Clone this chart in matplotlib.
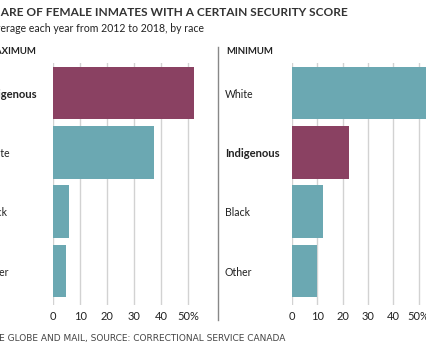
import matplotlib
matplotlib.use("Agg")
import matplotlib.pyplot as plt

W, H = 426, 351
plt.rcParams['font.family'] = ['Lato', 'DejaVu Sans']

# ---- data ----
max_categories = ["Indigenous", "White", "Black", "Other"]
max_values = [52.0, 37.2, 5.8, 4.7]
min_categories = ["White", "Indigenous", "Black", "Other"]
min_values = [57.0, 22.4, 12.2, 9.9]
tick_values = [0, 10, 20, 30, 40, 50]
tick_labels = ["0", "10", "20", "30", "40", "50%"]
highlight = "Indigenous"

TEAL = "#6ba8b2"
MAROON = "#8a4162"
GRID = "#d2d2d2"
TXT = "#222222"

fig = plt.figure(figsize=(W / 100, H / 100), dpi=100)
fig.patch.set_facecolor("white")

def fx(x):
    return x / W

def fy(y):
    return 1 - y / H

def make_axes(left_px, px_per_unit, xmax, cats, vals, label_pad):
    top, bottom = 63, 305
    width = px_per_unit * xmax
    ax = fig.add_axes([fx(left_px), fy(bottom), width / W, (bottom - top) / H])
    colors = [MAROON if c == highlight else TEAL for c in cats]
    ax.barh(range(len(cats)), vals, height=0.89, color=colors, zorder=2)
    ax.set_xlim(0, xmax)
    ax.set_ylim(3.573, -0.506)
    for s in ax.spines.values():
        s.set_visible(False)
    ax.set_xticks(tick_values)
    ax.set_xticklabels(tick_labels, fontsize=8, color=TXT)
    ax.tick_params(axis='x', length=0, pad=4.5)
    ax.grid(axis='x', color=GRID, lw=1, zorder=0)
    ax.set_axisbelow(True)
    ax.set_yticks(range(len(cats)))
    ax.set_yticklabels(cats, fontsize=7.6, color=TXT)
    ax.tick_params(axis='y', length=0, pad=label_pad)
    for lbl in ax.get_yticklabels():
        lbl.set_horizontalalignment('left')
        if lbl.get_text() == highlight:
            lbl.set_fontweight('bold')
            lbl.set_fontsize(8.1)
    return ax

make_axes(53.3, 2.7, 56, max_categories, max_values, 51.5)
make_axes(292.0, 2.533, 60, min_categories, min_values, 48.5)

# divider
fig.add_artist(plt.Line2D([fx(218), fx(218)], [fy(47), fy(320)], color="#888888", lw=1))

fig.text(fx(348), fy(12.3), "SHARE OF FEMALE INMATES WITH A CERTAIN SECURITY SCORE",
         ha='right', va='center', fontsize=8.6, fontweight='bold', color="#333333")
fig.text(fx(204), fy(28), "Average each year from 2012 to 2018, by race",
         ha='right', va='center', fontsize=7.6, color=TXT)
fig.text(fx(36), fy(52), "MAXIMUM", ha='right', va='center', fontsize=6.9,
         fontweight='bold', color=TXT)
fig.text(fx(226), fy(52), "MINIMUM", ha='left', va='center', fontsize=6.9,
         fontweight='bold', color=TXT)
fig.text(fx(285), fy(339), "THE GLOBE AND MAIL, SOURCE: CORRECTIONAL SERVICE CANADA",
         ha='right', va='center', fontsize=6.5, color="#444444", family=['DejaVu Sans'])

fig.savefig("out.png", dpi=100)
